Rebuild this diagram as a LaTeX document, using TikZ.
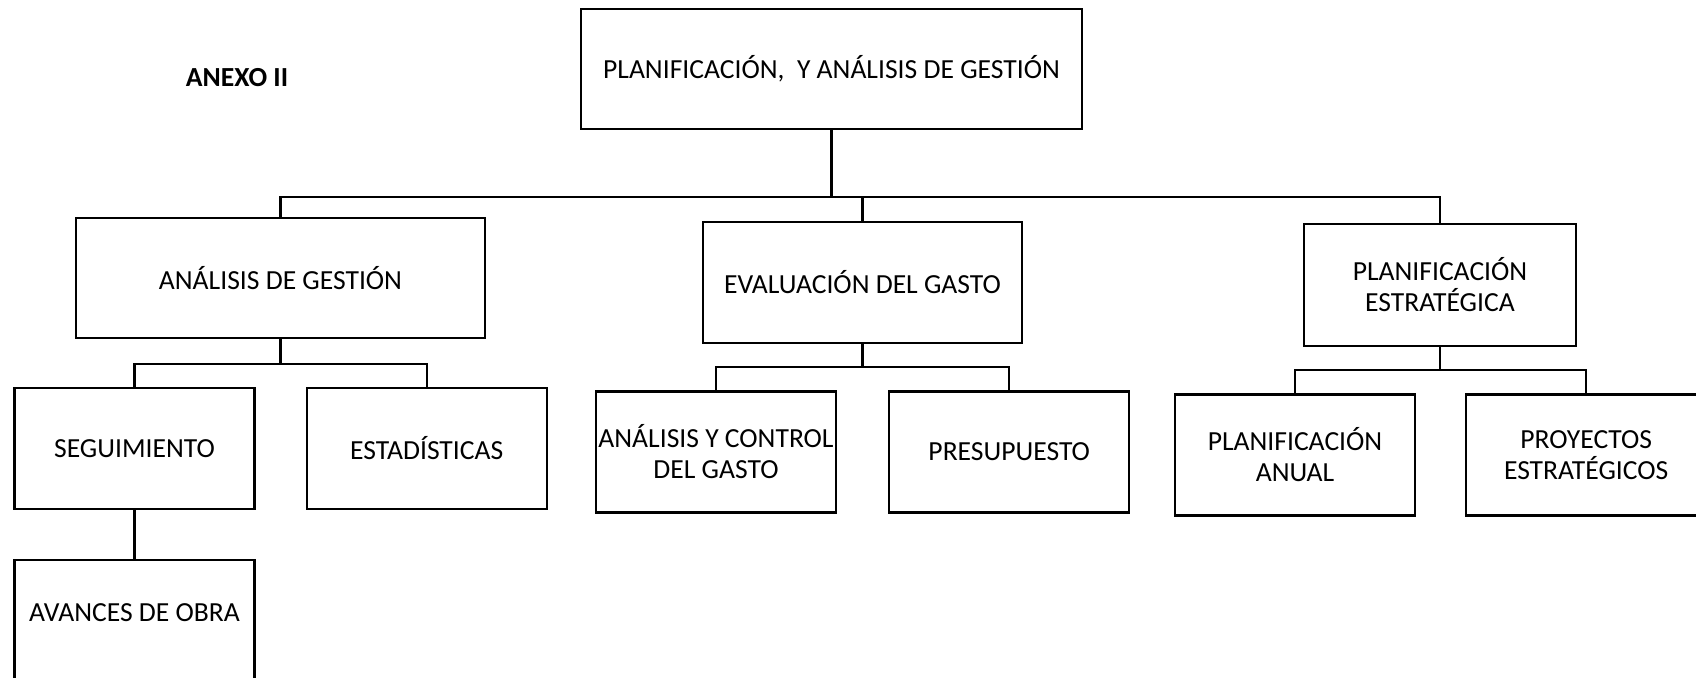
\documentclass[tikz,border=0pt]{standalone}
\usepackage{fontspec}
\setmainfont{Carlito}
\usetikzlibrary{positioning}

\begin{document}
\begin{tikzpicture}[
	x=0.5pt, y=-0.5pt,
	nodes = {
		align = center
	},
	block/.style={
		draw=black,
		rectangle,
		line width=1.1pt,
		inner sep=0pt,
		minimum width=120pt,
		minimum height=60.5pt,
		font=\fontsize{13.8}{15.5}\selectfont
	},
	lines/.style={
		line width=1.1pt
	}
]
	\useasboundingbox (0,0) rectangle (1696,677);
	\clip (0,0) rectangle (1696,677);

	\node[font=\fontsize{13.8}{15.5}\selectfont\bfseries] (anexo) at (237,78) {ANEXO II};

	\node[block, minimum width=250.5pt, minimum height=60pt] (top) at (831.5,69) {PLANIFICACIÓN,\ \ Y ANÁLISIS DE GESTIÓN};

	\node[block, minimum width=204.5pt, minimum height=60pt] (ag) at (280.5,278) {ANÁLISIS DE GESTIÓN};
	\node[block, minimum width=159.5pt] (eg) at (862.5,282.5) {EVALUACIÓN DEL GASTO};
	\node[block, minimum width=136pt, minimum height=61pt] (pe) at (1440,285) {PLANIFICACIÓN\\ESTRATÉGICA};

	\node[block] (seg) at (134.5,448.5) {SEGUIMIENTO};
	\node[block] (est) [right=25pt of seg] {ESTADÍSTICAS};
	\node[block, text depth=8pt] (avance) [below=24.5pt of seg] {AVANCES DE OBRA};

	\node[block] (ayc) at (716,452) {ANÁLISIS Y CONTROL\\DEL GASTO};
	\node[block] (pres) [right=25.5pt of ayc] {PRESUPUESTO};

	\node[block] (anual) at (1295,455) {PLANIFICACIÓN\\ANUAL};
	\node[block] (proy) [right=24.5pt of anual] {PROYECTOS\\ESTRATÉGICOS};

	\coordinate (bus) at (0,197);
	\coordinate (bus1) at (0,364);
	\coordinate (bus2) at (0,367);
	\coordinate (bus3) at (0,370);

	\draw[lines] (top.south) -- (top.south |- bus);
	\draw[lines] (ag.north) |- (pe.north |- bus) -- (pe.north);
	\draw[lines] (eg.north) -- (eg.north |- bus);

	\draw[lines] (ag.south) -- (ag.south |- bus1);
	\draw[lines] (seg.north) |- (est.north |- bus1) -- (est.north);
	\draw[lines] (seg.south) -- (avance.north);

	\draw[lines] (eg.south) -- (eg.south |- bus2);
	\draw[lines] (ayc.north) |- (pres.north |- bus2) -- (pres.north);

	\draw[lines] (pe.south) -- (pe.south |- bus3);
	\draw[lines] (anual.north) |- (proy.north |- bus3) -- (proy.north);

\end{tikzpicture}
\end{document}
